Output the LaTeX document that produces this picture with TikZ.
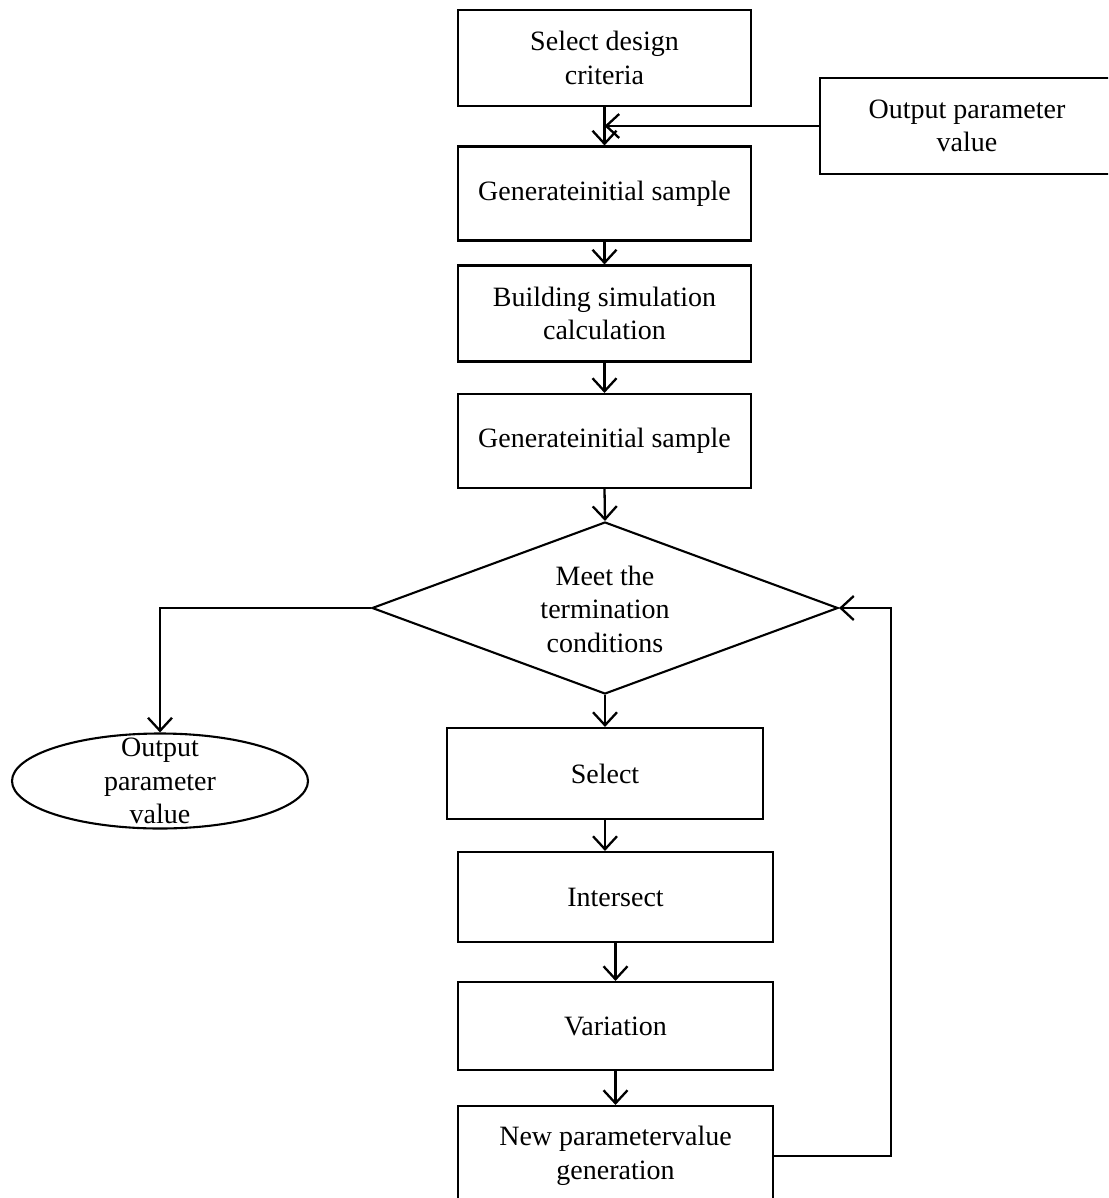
\documentclass[tikz,border=0pt]{standalone}
\usepackage{fontspec}
\setmainfont{Liberation Serif}
\usetikzlibrary{shapes.geometric,arrows.meta}
\begin{document}
\begin{tikzpicture}[x=1pt,y=-1pt,
  txt/.style={inner sep=0pt, align=center, font=\fontsize{28}{33.5}\selectfont},
  box/.style={txt, draw, line width=2.1pt, minimum width=293pt},
  arr/.style={line width=2.3pt, -{Straight Barb[length=13pt,width=24pt]}}]
\path[use as bounding box, clip] (0,0) rectangle (1108,1198);
% boxes
\node[box, minimum height=96pt] (b1) at (604.5,58) {Select design\\criteria};
\node[box, minimum width=294pt, minimum height=96pt] (outp) at (967,126) {Output parameter\\value};
\node[box, minimum height=94pt] (b2) at (604.5,193.5) {Generateinitial sample};
\node[box, minimum height=96pt] (b3) at (604.5,313.5) {Building simulation\\calculation};
\node[box, minimum height=94pt] (b4) at (604.5,441) {Generateinitial sample};
\node[draw, diamond, line width=2.1pt, inner sep=0pt, minimum width=466pt, minimum height=172pt] (dec) at (605,608) {};
\node[txt] (dect) at (605,609) {Meet the\\termination\\conditions};
\node[draw, ellipse, line width=2.1pt, inner sep=0pt, minimum width=296pt, minimum height=95pt] (ell) at (160,781) {};
\node[txt] (ellt) at (160,781) {Output\\parameter\\value};
\node[box, minimum width=316pt, minimum height=91pt] (sel) at (605,773.5) {Select};
\node[box, minimum width=315pt, minimum height=90pt] (int) at (615.5,897) {Intersect};
\node[box, minimum width=315pt, minimum height=88pt] (var) at (615.5,1026) {Variation};
\node[box, minimum width=315pt, minimum height=100pt] (newp) at (615.5,1156) {New parametervalue\\generation};
% connectors
\draw[arr] (b1.south) -- (b2.north);
\draw[arr] (outp.west) -- (b1.south |- outp.west);
\draw[arr] (b2.south) -- (b3.north);
\draw[arr] (b3.south) -- (b4.north);
\draw[arr] (b4.south) -- (dec.north);
\draw[arr] (dec.west) -| (ell.north);
\draw[arr] (dec.south) -- (sel.north);
\draw[arr] (sel.south) -- (sel.south |- int.north);
\draw[arr] (int.south) -- (var.north);
\draw[arr] (var.south) -- (newp.north);
\draw[arr] (newp.east) -- ++(117,0) |- (dec.east);
\end{tikzpicture}
\end{document}
